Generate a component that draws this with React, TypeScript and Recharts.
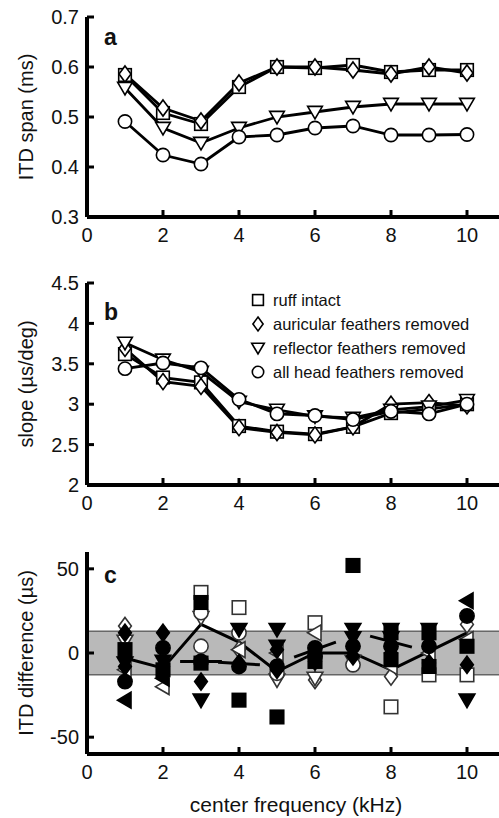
import React from 'react';
import {
  ComposedChart,
  Line,
  Scatter,
  XAxis,
  YAxis,
  ReferenceArea,
  ReferenceLine,
  Legend,
} from 'recharts';

const font = '"Liberation Sans", Arial, Helvetica, sans-serif';

const freqs = [1, 2, 3, 4, 5, 6, 7, 8, 9, 10];
const xTicks = [0, 2, 4, 6, 8, 10];

// panel a - ITD span (ms)
const spanRuff = [0.584, 0.508, 0.486, 0.56, 0.6, 0.598, 0.604, 0.59, 0.594, 0.594];
const spanAuricular = [0.586, 0.518, 0.492, 0.568, 0.6, 0.6, 0.594, 0.586, 0.6, 0.588];
const spanReflector = [0.558, 0.478, 0.448, 0.478, 0.5, 0.51, 0.52, 0.526, 0.526, 0.526];
const spanAllHead = [0.491, 0.424, 0.406, 0.46, 0.464, 0.478, 0.482, 0.464, 0.464, 0.465];
const spanTicks = [0.3, 0.4, 0.5, 0.6, 0.7];

// panel b - slope (us/deg)
const slopeRuff = [3.62, 3.33, 3.27, 2.73, 2.66, 2.63, 2.72, 2.89, 2.94, 3.0];
const slopeAuricular = [3.69, 3.28, 3.22, 2.71, 2.65, 2.62, 2.72, 3.0, 3.02, 2.98];
const slopeReflector = [3.76, 3.55, 3.4, 3.03, 2.93, 2.85, 2.83, 2.93, 2.97, 3.05];
const slopeAllHead = [3.44, 3.51, 3.45, 3.06, 2.88, 2.86, 2.81, 2.91, 2.88, 3.0];
const slopeTicks = [2, 2.5, 3, 3.5, 4, 4.5];

// panel c - ITD difference (us), [freq, value]
const cFilledSquare = [[1, 2], [2, -10], [3, 30], [3, -6], [4, -28], [5, -38], [6, -5], [7, 52], [8, 12], [8, -4], [9, 12], [9, -8], [10, 4]];
const cOpenSquare = [[3, 36], [4, 27], [6, 18], [8, -32], [9, -13], [10, -13]];
const cFilledDiamond = [[1, 12], [1, -8], [2, 12], [2, -8], [3, -17], [4, -6], [5, 2], [5, -10], [6, -5], [7, -2], [8, 0], [9, -6], [10, -7]];
const cOpenDiamond = [[1, 16], [4, 2], [5, -14], [6, -16], [8, -14], [10, 17]];
const cFilledDown = [[1, -6], [2, -5], [3, -28], [4, 14], [5, 14], [5, 4], [7, 14], [7, 9], [8, 14], [8, 9], [9, 14], [10, -28]];
const cOpenDown = [[1, 7], [3, 21], [5, -16], [6, -15], [7, -5]];
const cFilledCircle = [[1, -17], [2, 3], [3, -5], [4, -8], [5, -8], [6, 3], [6, -2], [7, 4], [8, 4], [9, 4], [10, 22]];
const cOpenCircle = [[3, 24], [3, 4], [4, 12], [5, -12], [7, -7]];
const cFilledLeft = [[1, -28], [2, -15], [10, 31]];
const cOpenLeft = [[1, -10], [2, -20], [4, 2], [5, 0], [6, 12], [8, -8], [9, 0], [10, 8]];
const cMean = [-3, -9, 17, 6.5, -11, 0, 0, -10, 1, 12];
const segFreqs = [3, 4, 6, 8];
const segStart = [-5, -5.5, -2.5, 10];
const segEnd = [-5, -7, 6.5, 3.5];
const cBand = [-13, 13];
const cTicks = [-50, 0, 50];

const legendNames = ['ruff intact', 'auricular feathers removed', 'reflector feathers removed', 'all head feathers removed'];
const legendKinds = ['square', 'diamond', 'down', 'circle'];

const spanData = freqs.map((f, i) => ({ f, sq: spanRuff[i], di: spanAuricular[i], tr: spanReflector[i], ci: spanAllHead[i] }));
const slopeData = freqs.map((f, i) => ({ f, sq: slopeRuff[i], di: slopeAuricular[i], tr: slopeReflector[i], ci: slopeAllHead[i] }));
const meanData = freqs.map((f, i) => ({ f, mean: cMean[i] }));
const pts = (arr: number[][]) => arr.map(([f, v]) => ({ f, v }));

function Marker({ cx, cy, kind, filled = false, size = 13, stroke = '#000' }: any) {
  if (cx == null || cy == null || isNaN(cx) || isNaN(cy)) return null;
  const h = size / 2;
  const p = { fill: filled ? '#000' : '#fff', stroke, strokeWidth: 1.6 };
  switch (kind) {
    case 'square':
      return <rect x={cx - h * 0.9} y={cy - h * 0.9} width={h * 1.8} height={h * 1.8} {...p} />;
    case 'diamond':
      return <polygon points={`${cx},${cy - h * 1.15} ${cx + h * 0.85},${cy} ${cx},${cy + h * 1.15} ${cx - h * 0.85},${cy}`} {...p} />;
    case 'down':
      return <polygon points={`${cx - h * 1.05},${cy - h * 0.8} ${cx + h * 1.05},${cy - h * 0.8} ${cx},${cy + h}`} {...p} />;
    case 'left':
      return <polygon points={`${cx + h * 0.8},${cy - h * 1.05} ${cx + h * 0.8},${cy + h * 1.05} ${cx - h},${cy}`} {...p} />;
    default:
      return <circle cx={cx} cy={cy} r={h * 0.95} {...p} />;
  }
}

const tickStyle = { fill: '#111', fontSize: 20, fontFamily: font };

// box with inward ticks on all four sides
function frame(yDomain: number[], yTicks: number[], yLabel: string, xLabel?: string, xHeight = 43) {
  const axisLine = { stroke: '#000', strokeWidth: 4 };
  const tickLine = { stroke: '#000', strokeWidth: 3 };
  return [
    <XAxis key="xb" dataKey="f" type="number" domain={[0, 11]} ticks={xTicks} allowDataOverflow interval={0}
      axisLine={axisLine} tickLine={tickLine} tickSize={-7} tickMargin={18} tick={tickStyle} height={xHeight}
      label={xLabel ? { value: xLabel, position: 'insideBottom', offset: 6, style: { fontSize: 21, fontFamily: font, fill: '#111' } } : undefined} />,
    <XAxis key="xt" xAxisId="top" orientation="top" type="number" domain={[0, 11]} ticks={xTicks} allowDataOverflow interval={0}
      axisLine={axisLine} tickLine={tickLine} tickSize={-7} tick={false} height={0} />,
    <YAxis key="yl" type="number" domain={yDomain} ticks={yTicks} allowDataOverflow interval={0}
      axisLine={axisLine} tickLine={tickLine} tickSize={-7} tickMargin={15} tick={tickStyle} width={87}
      label={{ value: yLabel, angle: -90, position: 'center', dx: -18, style: { fontSize: 20, fontFamily: font, fill: '#111', textAnchor: 'middle' } }} />,
    <YAxis key="yr" yAxisId="right" orientation="right" type="number" domain={yDomain} ticks={yTicks} allowDataOverflow interval={0}
      axisLine={axisLine} tickLine={tickLine} tickSize={-7} tick={false} width={0} />,
  ];
}

function seriesLines() {
  const kinds = [['sq', 'square'], ['di', 'diamond'], ['tr', 'down'], ['ci', 'circle']];
  return kinds.map(([key, kind], i) => (
    <Line key={key} dataKey={key} name={legendNames[i]} stroke="#000" strokeWidth={2.8} isAnimationActive={false}
      activeDot={false}
      dot={(p: any) => <Marker key={`${key}-${p.index}`} cx={p.cx} cy={p.cy} kind={kind} size={14} />} />
  ));
}

function LegendBox() {
  return (
    <div style={{ fontFamily: font, fontSize: 16.5, color: '#111' }}>
      {legendNames.map((name, i) => (
        <div key={name} style={{ display: 'flex', alignItems: 'center', height: 24, whiteSpace: 'nowrap' }}>
          <svg width={16} height={18} style={{ marginRight: 7 }}>
            <Marker cx={8} cy={9} kind={legendKinds[i]} size={12} />
          </svg>
          <span>{name}</span>
        </div>
      ))}
    </div>
  );
}

const letter = { fontSize: 23, fontWeight: 700, fontFamily: font, fill: '#111' };

const scatterSets: [number[][], string, boolean][] = [
  [cOpenSquare, 'square', false],
  [cOpenDiamond, 'diamond', false],
  [cOpenDown, 'down', false],
  [cOpenCircle, 'circle', false],
  [cOpenLeft, 'left', false],
  [cFilledSquare, 'square', true],
  [cFilledDiamond, 'diamond', true],
  [cFilledDown, 'down', true],
  [cFilledCircle, 'circle', true],
  [cFilledLeft, 'left', true],
];

export default function App() {
  return (
    <div style={{ position: 'absolute', left: 0, top: 0, width: 499, height: 818, overflow: 'hidden', background: '#fff' }}>
      <div style={{ position: 'absolute', left: 0, top: 0 }}>
        <ComposedChart width={520} height={260} data={spanData} margin={{ top: 17, right: 15, bottom: 0, left: 0 }}>
          {frame([0.3, 0.7], spanTicks, 'ITD span (ms)')}
          {seriesLines()}
          <text x={104} y={45} style={letter}>a</text>
        </ComposedChart>
      </div>
      <div style={{ position: 'absolute', left: 0, top: 266 }}>
        <ComposedChart width={520} height={262} data={slopeData} margin={{ top: 17, right: 15, bottom: 0, left: 0 }}>
          {frame([2, 4.5], slopeTicks, 'slope (\u00b5s/deg)')}
          {seriesLines()}
          <Legend layout="horizontal" verticalAlign="middle" align="center"
            wrapperStyle={{ left: 250, top: 22, width: 'auto', height: 'auto' }}
            content={() => <LegendBox />} />
          <text x={104} y={54} style={letter}>b</text>
        </ComposedChart>
      </div>
      <div style={{ position: 'absolute', left: 0, top: 535 }}>
        <ComposedChart width={520} height={283} data={meanData} margin={{ top: 17, right: 15, bottom: 0, left: 0 }}>
          {frame([-60, 60], cTicks, 'ITD difference (\u00b5s)', 'center frequency (kHz)', 64)}
          <ReferenceArea y1={cBand[0]} y2={cBand[1]} fill="#b9b9b9" fillOpacity={1} stroke="#333" strokeWidth={1} />
          {segFreqs.map((f, i) => (
            <ReferenceLine key={`seg-${f}`} segment={[{ x: f - 0.55, y: segStart[i] }, { x: f + 0.55, y: segEnd[i] }]}
              stroke="#000" strokeWidth={3} />
          ))}
          {scatterSets.map(([arr, kind, filled], i) => (
            <Scatter key={`sc-${i}`} data={pts(arr)} dataKey="v" isAnimationActive={false}
              shape={(p: any) => <Marker cx={p.cx} cy={p.cy} kind={kind} filled={filled} size={15} stroke={filled ? '#000' : '#333'} />} />
          ))}
          <Line dataKey="mean" stroke="#000" strokeWidth={3} dot={false} activeDot={false} isAnimationActive={false} />
          <text x={104} y={48} style={letter}>c</text>
        </ComposedChart>
      </div>
    </div>
  );
}
